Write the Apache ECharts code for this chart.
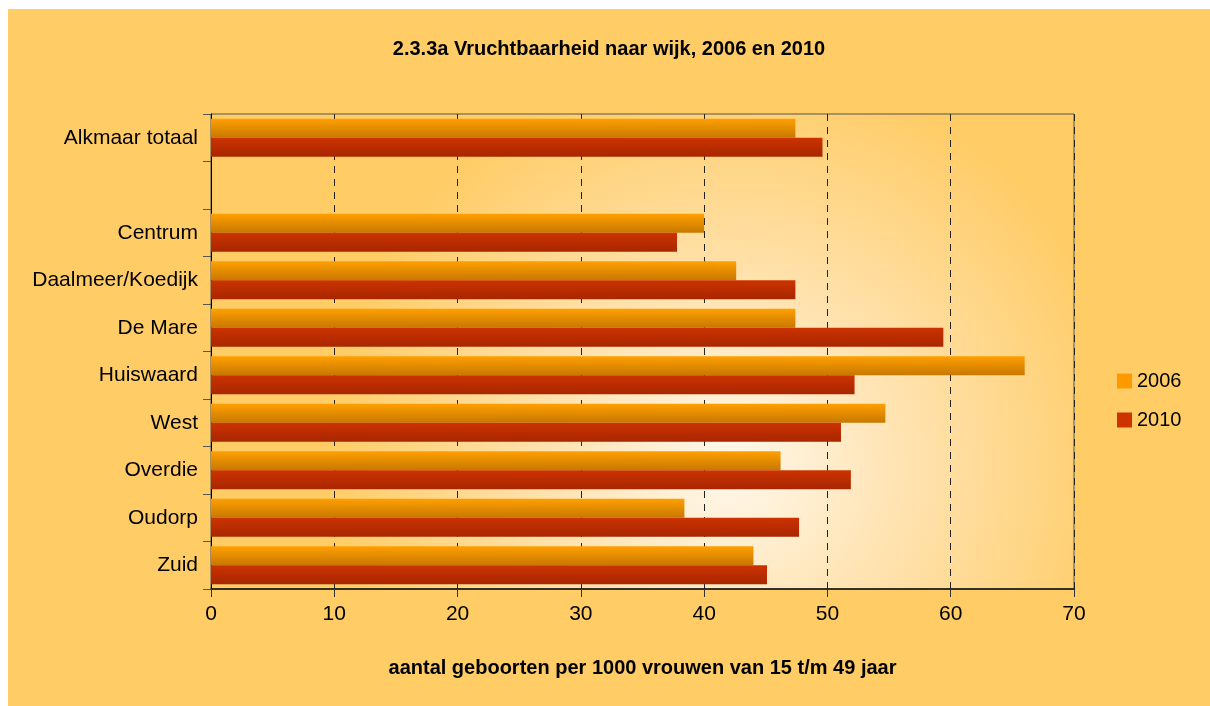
<!DOCTYPE html>
<html>
<head>
<meta charset="utf-8">
<script src="https://cdn.jsdelivr.net/npm/echarts@6/dist/echarts.min.js"></script>
<style>
  body { margin: 0; background: #ffffff; }
  #chart { position: absolute; left: 8px; top: 9px; width: 1202px; height: 697px; background: #FFCC66; }
</style>
</head>
<body>
<div id="chart"></div>
<script>
// wijken van boven naar beneden (lege rij tussen totaal en wijken)
const categories = ['Alkmaar totaal', '', 'Centrum', 'Daalmeer/Koedijk', 'De Mare', 'Huiswaard', 'West', 'Overdie', 'Oudorp', 'Zuid'];
const values2006 = [47.4, null, 40.0, 42.6, 47.4, 66.0, 54.7, 46.2, 38.4, 44.0];
const values2010 = [49.6, null, 37.8, 47.4, 59.4, 52.2, 51.1, 51.9, 47.7, 45.1];
const xTicks = [0, 10, 20, 30, 40, 50, 60, 70];

const chart = echarts.init(document.getElementById('chart'));
const font = 'Liberation Sans, Arial, sans-serif';

const option = {
    animation: false,
    title: {
        text: '2.3.3a Vruchtbaarheid naar wijk, 2006 en 2010',
        left: 'center',
        top: 25,
        textStyle: { fontFamily: font, fontSize: 20, fontWeight: 'bold', color: '#000' }
    },
    legend: {
        orient: 'vertical',
        left: 1104,
        top: 357,
        itemWidth: 15,
        itemHeight: 15,
        itemGap: 19,
        textStyle: { fontFamily: font, fontSize: 20, color: '#000' },
        data: [
            { name: '2006', icon: 'rect', itemStyle: { color: '#FF9900' } },
            { name: '2010', icon: 'rect', itemStyle: { color: '#CC3300' } }
        ]
    },
    grid: {
        left: 203,
        top: 105,
        width: 863,
        height: 475,
        show: true,
        borderColor: '#555',
        borderWidth: 1,
        backgroundColor: new echarts.graphic.RadialGradient(0.6, 0.74, 0.85, [
            { offset: 0, color: '#FFF8EC' },
            { offset: 0.45, color: '#FFE2AE' },
            { offset: 1, color: '#FFCC66' }
        ])
    },
    xAxis: {
        type: 'value',
        min: xTicks[0],
        max: xTicks[xTicks.length - 1],
        interval: 10,
        name: 'aantal geboorten per 1000 vrouwen van 15 t/m 49 jaar',
        nameLocation: 'middle',
        nameGap: 69,
        nameTextStyle: { fontFamily: font, fontSize: 20, fontWeight: 'bold', color: '#000' },
        axisLine: { show: true, lineStyle: { color: '#111', width: 1.5 } },
        axisTick: { show: true, length: 8, lineStyle: { color: '#333' } },
        axisLabel: { fontFamily: font, fontSize: 21, color: '#000', margin: 15 },
        splitLine: { show: true, lineStyle: { color: '#222', type: [7, 6], width: 1 } }
    },
    yAxis: {
        type: 'category',
        inverse: true,
        data: categories,
        axisLine: { show: true, lineStyle: { color: '#000', width: 1 } },
        axisTick: { show: true, length: 8, lineStyle: { color: '#555' } },
        axisLabel: { fontFamily: font, fontSize: 21, color: '#000', margin: 13 }
    },
    series: [
        {
            name: '2006',
            type: 'bar',
            data: values2006,
            barGap: '0%',
            barCategoryGap: '20%',
            itemStyle: {
                color: new echarts.graphic.LinearGradient(0, 0, 0, 1, [
                    { offset: 0, color: '#FFA000' },
                    { offset: 1, color: '#C87800' }
                ])
            }
        },
        {
            name: '2010',
            type: 'bar',
            data: values2010,
            itemStyle: {
                color: new echarts.graphic.LinearGradient(0, 0, 0, 1, [
                    { offset: 0, color: '#CC3300' },
                    { offset: 1, color: '#A82600' }
                ])
            }
        }
    ]
};

chart.setOption(option);
window.addEventListener('resize', chart.resize);
</script>
</body>
</html>
